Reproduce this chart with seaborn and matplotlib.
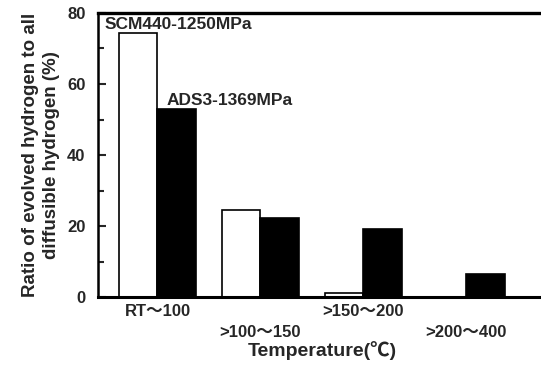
import matplotlib
matplotlib.use("Agg")
import matplotlib.pyplot as plt
import seaborn as sns
import pandas as pd
from matplotlib.ticker import MultipleLocator

# ---- data ----
categories = ["RT～100", ">100～150", ">150～200", ">200～400"]
steels = ["SCM440-1250MPa", "ADS3-1369MPa"]
scm440 = [74.5, 24.6, 1.0, 0.0]
ads3 = [53.0, 22.3, 19.1, 6.5]
yticks = [0, 20, 40, 60, 80]

df = pd.DataFrame({
    "range": categories * 2,
    "ratio": scm440 + ads3,
    "steel": [steels[0]] * 4 + [steels[1]] * 4,
})

sns.set_style("ticks")
fam = ["Liberation Sans", "Noto Sans CJK JP", "DejaVu Sans"]
plt.rcParams["font.family"] = fam
plt.rcParams["font.weight"] = "bold"

fig = plt.figure(figsize=(5.41, 3.65), dpi=100)
ax = fig.add_axes([98 / 541, 1 - 297 / 365, (541 - 98) / 541 + 0.01, (297 - 13) / 365])

sns.barplot(data=df, x="range", y="ratio", hue="steel", order=categories,
            hue_order=steels, palette={steels[0]: "white", steels[1]: "black"},
            edgecolor="black", linewidth=1.2, width=0.75, gap=0, saturation=1,
            legend=False, ax=ax)

ax.set_xlim(-0.578, 3.78)
ax.set_ylim(0, 80)
ax.set_yticks(yticks)
ax.yaxis.set_minor_locator(MultipleLocator(10))
ax.tick_params(axis="y", which="major", direction="in", length=6, width=1.5,
               labelsize=12, pad=9, left=True)
ax.tick_params(axis="y", which="minor", direction="in", length=4.5, width=1.5, left=True)
ax.tick_params(axis="x", which="major", length=0, labelsize=12, pad=5)
for t in ax.xaxis.get_major_ticks()[1::2]:
    t.set_pad(20)

ax.set_xlabel("Temperature(℃)", fontsize=14, labelpad=1, fontweight="bold")
ax.set_ylabel("Ratio of evolved hydrogen to all\ndiffusible hydrogen (%)",
              fontsize=13.5, labelpad=5, fontweight="bold", linespacing=1.35)

ax.text(-0.51, 75.6, steels[0], fontsize=12.5, fontweight="bold", va="baseline", ha="left")
ax.text(0.09, 54.0, steels[1], fontsize=12.5, fontweight="bold", va="baseline", ha="left")

ax.spines["right"].set_visible(False)
for s in ["left", "top", "bottom"]:
    ax.spines[s].set_visible(True)
    ax.spines[s].set_color("black")
ax.spines["left"].set_linewidth(1.8)
ax.spines["top"].set_linewidth(2.4)
ax.spines["bottom"].set_linewidth(2.2)

fig.savefig("out.png", dpi=100)
